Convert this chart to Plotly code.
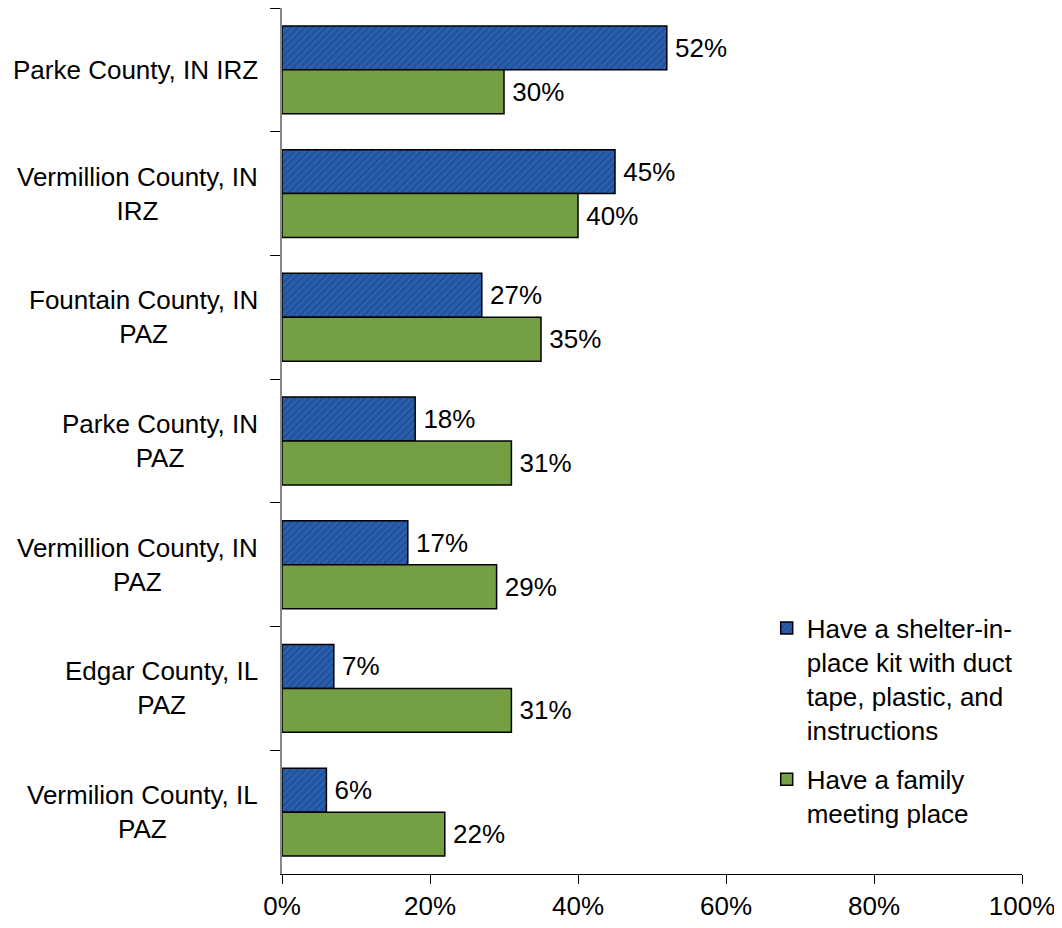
import plotly.graph_objects as go

categories = [
    "Parke County, IN IRZ",
    "Vermillion County, IN<br>IRZ",
    "Fountain County, IN<br>PAZ",
    "Parke County, IN<br>PAZ",
    "Vermillion County, IN<br>PAZ",
    "Edgar County, IL<br>PAZ",
    "Vermilion County, IL<br>PAZ",
]
shelter_kit = [52, 45, 27, 18, 17, 7, 6]
meeting_place = [30, 40, 35, 31, 29, 31, 22]
series_names = [
    "Have a shelter-in-<br>place kit with duct<br>tape, plastic, and<br>instructions",
    "Have a family<br>meeting place",
]
x_ticks = [0, 20, 40, 60, 80, 100]

FONT = "Liberation Sans, Arial, sans-serif"
FS = 26

fig = go.Figure()
fig.add_trace(go.Bar(
    y=categories, x=shelter_kit, orientation="h", name=series_names[0],
    legendgroup="a",
    marker=dict(color="#2a5fae", line=dict(color="#000000", width=1.5),
                pattern=dict(shape="/", fgcolor="#17407c", size=5, solidity=0.4)),
    text=[f"\u2009{v}%" for v in shelter_kit], textposition="outside",
    textfont=dict(size=FS, color="#000000", family=FONT),
    constraintext="none", cliponaxis=False,
))
fig.add_trace(go.Bar(
    y=categories, x=meeting_place, orientation="h", name=series_names[1],
    legendgroup="b",
    marker=dict(color="#74a043", line=dict(color="#000000", width=1.5)),
    text=[f"\u2009{v}%" for v in meeting_place], textposition="outside",
    textfont=dict(size=FS, color="#000000", family=FONT),
    constraintext="none", cliponaxis=False,
))

for c in categories:
    fig.add_annotation(
        x=0, xref="paper", y=c, yref="y", text=c, showarrow=False,
        xanchor="right", align="center", xshift=-22,
        font=dict(size=FS, color="#000000", family=FONT),
    )

fig.update_layout(
    width=1046, height=912,
    margin=dict(l=274, r=32, t=0, b=46),
    paper_bgcolor="white", plot_bgcolor="white",
    barmode="group", bargap=0.29, bargroupgap=0,
    font=dict(family=FONT, size=FS, color="#000000"),
    legend=dict(x=0.655, y=0.311, xanchor="left", yanchor="top",
                valign="top", font=dict(size=FS, family=FONT),
                tracegroupgap=13, bgcolor="rgba(0,0,0,0)"),
    showlegend=True,
)
fig.update_xaxes(
    range=[0, 100], tickvals=x_ticks, ticktext=[f"{t}%" for t in x_ticks],
    ticks="outside", ticklen=9, tickcolor="#000000", ticklabelstandoff=0,
    ticklabeloverflow="allow", automargin=False,
    showline=True, linecolor="#000000", linewidth=1,
    showgrid=False, zeroline=False,
    tickfont=dict(size=FS, family=FONT),
)
fig.update_yaxes(
    type="category", autorange="reversed", tickson="boundaries",
    ticks="outside", ticklen=10, tickcolor="#000000", automargin=False,
    showline=True, linecolor="#888888", linewidth=1.5,
    showticklabels=False, showgrid=False,
)

fig.write_html("out.html")
